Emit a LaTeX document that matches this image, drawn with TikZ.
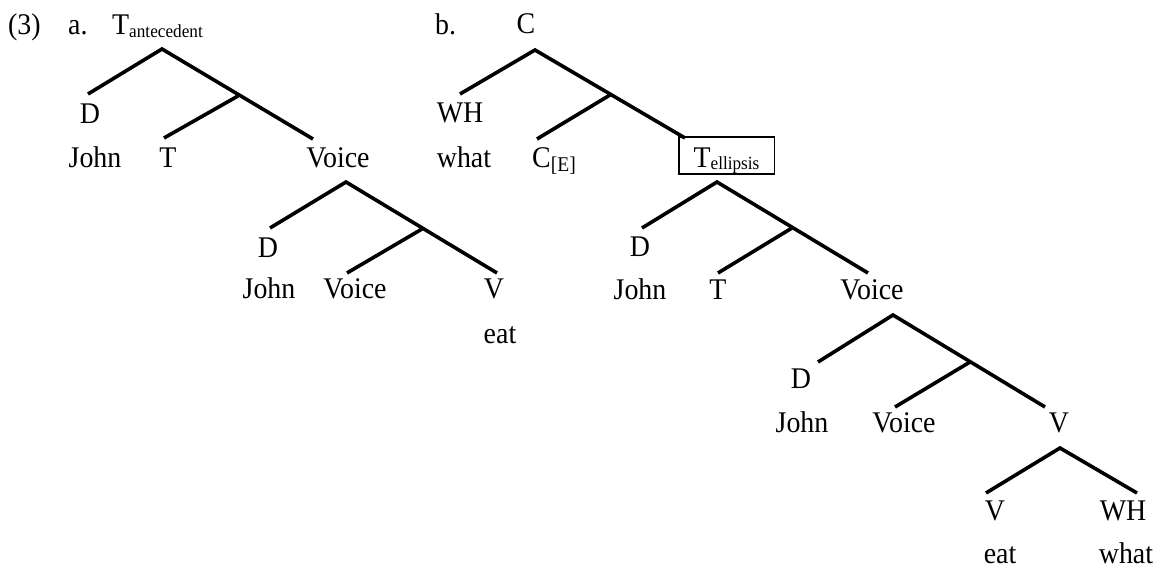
\documentclass[tikz,border=0pt]{standalone}
\usepackage{fontspec}
\setmainfont{Liberation Serif}[FakeStretch=0.93]
\newcommand{\bigsz}{\fontsize{30}{32}\selectfont}
\newcommand{\subsz}{\fontsize{18.5}{19}\selectfont}
\newcommand{\lowsub}[1]{\raisebox{-3pt}{\subsz #1}}
\tikzset{
  lbl/.style={anchor=base, inner sep=0pt, font=\bigsz},
  lblw/.style={anchor=base west, inner sep=0pt, font=\bigsz},
  branch/.style={line width=3.6pt},
  ellbox/.style={draw, line width=1.8pt, anchor=base, inner xsep=15pt, inner ysep=0pt, text height=30pt, text depth=7pt, font=\bigsz}
}
\begin{document}
\begin{tikzpicture}[x=1pt,y=-1pt]
\useasboundingbox (0,0) rectangle (1165,568);
% ---------- (3a) ----------
\node[lblw] (ex) at (8,34) {(3)};
\node[lblw] (la) at (68,34) {a.};
\node[lblw] (Tant) at (112,34) {T\lowsub{antecedent}};
\node[lbl] (aD) at (90,123) {D};
\node[lbl] (aJohn) at (95,167) {John};
\node[lbl] (aT) at (168,167) {T};
\node[lbl] (aVoice) at (338,167) {Voice};
\node[lbl] (avD) at (268,257) {D};
\node[lbl] (avJohn) at (269,298) {John};
\node[lbl] (avVoice) at (355,298) {Voice};
\node[lbl] (avV) at (494,298) {V};
\node[lbl] (aveat) at (500,343) {eat};
\coordinate (a0) at (162,49);
\coordinate (aL) at (88,94);
\coordinate (aM) at (238,96);
\coordinate (aTt) at (164,138);
\coordinate (aR) at (313,139);
\coordinate (v0) at (346,182);
\coordinate (vL) at (270,228);
\coordinate (vM) at (422,229);
\coordinate (vV) at (347,273);
\coordinate (vR) at (497,273);
\draw[branch] (aL) -- (a0) -- (aR);
\draw[branch] (aM) -- (aTt);
\draw[branch] (vL) -- (v0) -- (vR);
\draw[branch] (vM) -- (vV);
% ---------- (3b) ----------
\node[lblw] (lb) at (435,34) {b.};
\node[lbl] (bC) at (526,33) {C};
\node[lbl] (bWH) at (460,122) {WH};
\node[lbl] (bwhat) at (464,167) {what};
\node[lblw] (bCE) at (532,167) {C\raisebox{-4pt}{\fontsize{21}{22}\selectfont [E]}};
\node[ellbox] (Tell) at (726.5,167) {T\raisebox{-2pt}{\subsz ellipsis}};
\node[lbl] (tD) at (640,256) {D};
\node[lbl] (tJohn) at (640,299) {John};
\node[lbl] (tT) at (718,299) {T};
\node[lbl] (tVoice) at (872,299) {Voice};
\node[lbl] (wD) at (801,388) {D};
\node[lbl] (wJohn) at (802,432) {John};
\node[lbl] (wVoice) at (904,432) {Voice};
\node[lbl] (wV) at (1059,432) {V};
\node[lbl] (xV) at (995,520) {V};
\node[lbl] (xWH) at (1123,520) {WH};
\node[lbl] (xeat) at (1000,563) {eat};
\node[lbl] (xwhat) at (1126,563) {what};
\coordinate (b0) at (535,50);
\coordinate (bL) at (460,94);
\coordinate (bM) at (610,95);
\coordinate (bCc) at (537,139);
\coordinate (bR) at (685,138);
\coordinate (t0) at (717,182);
\coordinate (tL) at (642,228);
\coordinate (tM) at (792,228);
\coordinate (tTt) at (718,273);
\coordinate (tR) at (868,273);
\coordinate (w0) at (893,315);
\coordinate (wL) at (818,362);
\coordinate (wM) at (970,362);
\coordinate (wVv) at (895,407);
\coordinate (wR) at (1045,407);
\coordinate (x0) at (1060,448);
\coordinate (xL) at (986,493);
\coordinate (xR) at (1137,493);
\draw[branch] (bL) -- (b0) -- (bR);
\draw[branch] (bM) -- (bCc);
\draw[branch] (tL) -- (t0) -- (tR);
\draw[branch] (tM) -- (tTt);
\draw[branch] (wL) -- (w0) -- (wR);
\draw[branch] (wM) -- (wVv);
\draw[branch] (xL) -- (x0) -- (xR);
\end{tikzpicture}
\end{document}
